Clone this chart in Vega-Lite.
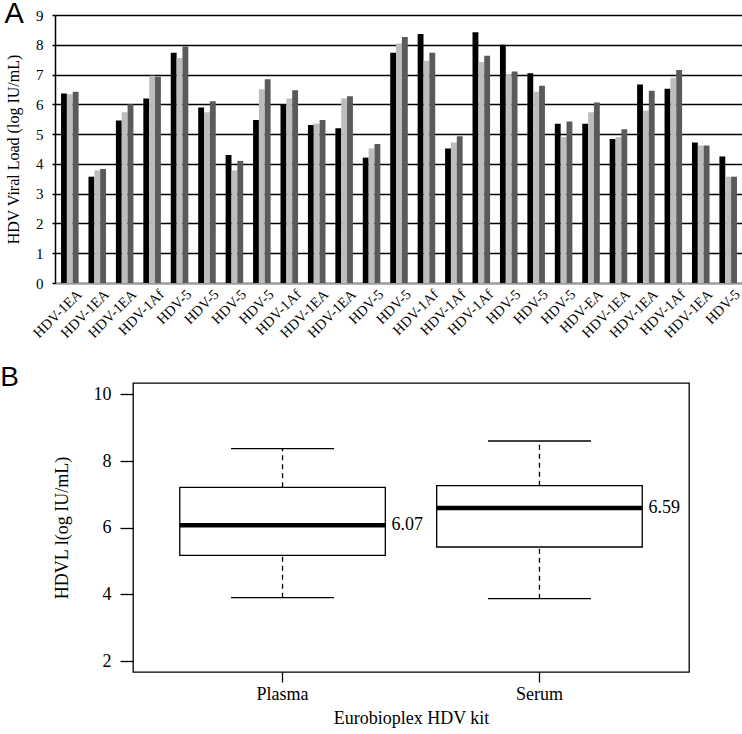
{
  "$schema": "https://vega.github.io/schema/vega-lite/v6.json",
  "background": "white",
  "padding": {"left": 0, "top": 0, "right": 0, "bottom": 0},
  "config": {
    "font": "Liberation Serif",
    "axis": {"labelFont": "Liberation Serif", "titleFont": "Liberation Serif", "labelColor": "black", "titleColor": "black", "titleFontWeight": "normal"},
    "title": {"font": "Liberation Sans", "fontWeight": "normal", "color": "black"}
  },
  "datasets": {
    "bars": [
      {"g": "01 HDV-1EA", "s": "a", "v": 6.36}, {"g": "01 HDV-1EA", "s": "b", "v": 6.34}, {"g": "01 HDV-1EA", "s": "c", "v": 6.42},
      {"g": "02 HDV-1EA", "s": "a", "v": 3.57}, {"g": "02 HDV-1EA", "s": "b", "v": 3.78}, {"g": "02 HDV-1EA", "s": "c", "v": 3.83},
      {"g": "03 HDV-1EA", "s": "a", "v": 5.46}, {"g": "03 HDV-1EA", "s": "b", "v": 5.73}, {"g": "03 HDV-1EA", "s": "c", "v": 6.0},
      {"g": "04 HDV-1Af", "s": "a", "v": 6.2}, {"g": "04 HDV-1Af", "s": "b", "v": 6.96}, {"g": "04 HDV-1Af", "s": "c", "v": 6.93},
      {"g": "05 HDV-5", "s": "a", "v": 7.73}, {"g": "05 HDV-5", "s": "b", "v": 7.56}, {"g": "05 HDV-5", "s": "c", "v": 7.94},
      {"g": "06 HDV-5", "s": "a", "v": 5.89}, {"g": "06 HDV-5", "s": "b", "v": 5.73}, {"g": "06 HDV-5", "s": "c", "v": 6.1},
      {"g": "07 HDV-5", "s": "a", "v": 4.3}, {"g": "07 HDV-5", "s": "b", "v": 3.78}, {"g": "07 HDV-5", "s": "c", "v": 4.1},
      {"g": "08 HDV-5", "s": "a", "v": 5.47}, {"g": "08 HDV-5", "s": "b", "v": 6.51}, {"g": "08 HDV-5", "s": "c", "v": 6.84},
      {"g": "09 HDV-1Af", "s": "a", "v": 6.01}, {"g": "09 HDV-1Af", "s": "b", "v": 6.2}, {"g": "09 HDV-1Af", "s": "c", "v": 6.47},
      {"g": "10 HDV-1EA", "s": "a", "v": 5.31}, {"g": "10 HDV-1EA", "s": "b", "v": 5.36}, {"g": "10 HDV-1EA", "s": "c", "v": 5.47},
      {"g": "11 HDV-1EA", "s": "a", "v": 5.2}, {"g": "11 HDV-1EA", "s": "b", "v": 6.2}, {"g": "11 HDV-1EA", "s": "c", "v": 6.27},
      {"g": "12 HDV-5", "s": "a", "v": 4.21}, {"g": "12 HDV-5", "s": "b", "v": 4.52}, {"g": "12 HDV-5", "s": "c", "v": 4.67},
      {"g": "13 HDV-5", "s": "a", "v": 7.73}, {"g": "13 HDV-5", "s": "b", "v": 8.04}, {"g": "13 HDV-5", "s": "c", "v": 8.26},
      {"g": "14 HDV-1Af", "s": "a", "v": 8.36}, {"g": "14 HDV-1Af", "s": "b", "v": 7.46}, {"g": "14 HDV-1Af", "s": "c", "v": 7.73},
      {"g": "15 HDV-1Af", "s": "a", "v": 4.52}, {"g": "15 HDV-1Af", "s": "b", "v": 4.72}, {"g": "15 HDV-1Af", "s": "c", "v": 4.93},
      {"g": "16 HDV-1Af", "s": "a", "v": 8.42}, {"g": "16 HDV-1Af", "s": "b", "v": 7.42}, {"g": "16 HDV-1Af", "s": "c", "v": 7.63},
      {"g": "17 HDV-5", "s": "a", "v": 8.0}, {"g": "17 HDV-5", "s": "b", "v": 7.0}, {"g": "17 HDV-5", "s": "c", "v": 7.1},
      {"g": "18 HDV-5", "s": "a", "v": 7.04}, {"g": "18 HDV-5", "s": "b", "v": 6.42}, {"g": "18 HDV-5", "s": "c", "v": 6.62},
      {"g": "19 HDV-5", "s": "a", "v": 5.35}, {"g": "19 HDV-5", "s": "b", "v": 4.9}, {"g": "19 HDV-5", "s": "c", "v": 5.42},
      {"g": "20 HDV-EA", "s": "a", "v": 5.35}, {"g": "20 HDV-EA", "s": "b", "v": 5.73}, {"g": "20 HDV-EA", "s": "c", "v": 6.06},
      {"g": "21 HDV-1EA", "s": "a", "v": 4.84}, {"g": "21 HDV-1EA", "s": "b", "v": 4.9}, {"g": "21 HDV-1EA", "s": "c", "v": 5.16},
      {"g": "22 HDV-1EA", "s": "a", "v": 6.67}, {"g": "22 HDV-1EA", "s": "b", "v": 5.79}, {"g": "22 HDV-1EA", "s": "c", "v": 6.46},
      {"g": "23 HDV-1Af", "s": "a", "v": 6.52}, {"g": "23 HDV-1Af", "s": "b", "v": 6.89}, {"g": "23 HDV-1Af", "s": "c", "v": 7.15},
      {"g": "24 HDV-1EA", "s": "a", "v": 4.72}, {"g": "24 HDV-1EA", "s": "b", "v": 4.62}, {"g": "24 HDV-1EA", "s": "c", "v": 4.62},
      {"g": "25 HDV-5", "s": "a", "v": 4.25}, {"g": "25 HDV-5", "s": "b", "v": 3.57}, {"g": "25 HDV-5", "s": "c", "v": 3.57}
    ],
    "box": [
      {"kit": "Plasma", "lower": 3.9, "q1": 5.17, "median": 6.07, "q3": 7.21, "upper": 8.37, "label": "6.07"},
      {"kit": "Serum", "lower": 3.87, "q1": 5.42, "median": 6.59, "q3": 7.26, "upper": 8.6, "label": "6.59"}
    ]
  },
  "spacing": 23,
  "vconcat": [
    {
      "title": {"text": "A", "anchor": "start", "frame": "bounds", "fontSize": 29, "baseline": "top", "offset": -16, "dy": 5, "dx": -1},
      "width": 688,
      "height": 268,
      "data": {"name": "bars"},
      "view": {"stroke": null},
      "mark": {"type": "bar"},
      "encoding": {
        "x": {
          "field": "g", "type": "nominal",
          "scale": {"paddingInner": 0.36, "paddingOuter": 0.22},
          "axis": {"title": null, "labelExpr": "slice(datum.value, 3)", "labelAngle": -45, "labelAlign": "right", "labelBaseline": "top", "ticks": false, "domainColor": "#9a9a9a", "domainWidth": 1.5, "labelFontSize": 14.5, "labelPadding": 4, "labelOffset": 5}
        },
        "xOffset": {"field": "s", "type": "nominal", "scale": {"paddingInner": 0, "paddingOuter": 0}},
        "y": {
          "field": "v", "type": "quantitative",
          "scale": {"domain": [0, 9], "nice": false},
          "axis": {"title": "HDV Viral Load (log IU/mL)", "values": [0, 1, 2, 3, 4, 5, 6, 7, 8, 9], "grid": true, "gridColor": "black", "gridWidth": 1.5, "gridOpacity": 1, "domainColor": "black", "domainWidth": 1.5, "tickColor": "black", "tickSize": 3, "tickWidth": 1.5, "labelFontSize": 15, "labelPadding": 9, "titleFontSize": 16, "titlePadding": 14}
        },
        "color": {"field": "s", "type": "nominal", "scale": {"domain": ["a", "b", "c"], "range": ["#000000", "#bdbdbd", "#5a5a5a"]}, "legend": null}
      }
    },
    {
      "title": {"text": "B", "anchor": "start", "frame": "bounds", "fontSize": 28, "baseline": "top", "offset": -13, "dy": -3, "dx": -52},
      "spacing": -7,
      "hconcat": [
        {
          "width": 1,
          "height": 289,
          "data": {"values": [{"a": 1}]},
          "view": {"stroke": null},
          "mark": {"type": "point", "opacity": 0},
          "encoding": {}
        },
        {
          "width": 556,
          "height": 289,
          "data": {"name": "box"},
          "view": {"stroke": "black", "strokeWidth": 1.3},
          "encoding": {
            "x": {
              "field": "kit", "type": "nominal",
              "scale": {"paddingInner": 0.2, "paddingOuter": 0.182},
              "axis": {"title": "Eurobioplex HDV kit", "labelAngle": 0, "domain": false, "tickSize": 10, "tickColor": "black", "tickWidth": 1.3, "labelFontSize": 18, "titleFontSize": 18, "labelPadding": 3, "titlePadding": 6}
            }
          },
          "layer": [
            {
              "mark": {"type": "rule", "color": "black", "strokeWidth": 1.3, "strokeDash": [5, 4]},
              "encoding": {
                "y": {
                  "field": "q3", "type": "quantitative", "title": "HDVL l(og IU/mL)",
                  "scale": {"domain": [1.67, 10.34], "nice": false, "zero": false},
                  "axis": {"values": [2, 4, 6, 8, 10], "domain": false, "grid": false, "tickSize": 13, "tickColor": "black", "tickWidth": 1.3, "labelFontSize": 18, "labelPadding": 9, "titleFontSize": 18, "titlePadding": 22}
                },
                "y2": {"field": "upper"}
              }
            },
            {
              "mark": {"type": "rule", "color": "black", "strokeWidth": 1.3, "strokeDash": [5, 4]},
              "encoding": {
                "y": {"field": "lower", "type": "quantitative", "title": "HDVL l(og IU/mL)"},
                "y2": {"field": "q1"}
              }
            },
            {
              "mark": {"type": "tick", "color": "black", "thickness": 1.3, "size": 103, "opacity": 1},
              "encoding": {"y": {"field": "upper", "type": "quantitative", "title": "HDVL l(og IU/mL)"}}
            },
            {
              "mark": {"type": "tick", "color": "black", "thickness": 1.3, "size": 103, "opacity": 1},
              "encoding": {"y": {"field": "lower", "type": "quantitative", "title": "HDVL l(og IU/mL)"}}
            },
            {
              "mark": {"type": "bar", "fill": "white", "stroke": "black", "strokeWidth": 1.3},
              "encoding": {
                "y": {"field": "q1", "type": "quantitative", "title": "HDVL l(og IU/mL)"},
                "y2": {"field": "q3"}
              }
            },
            {
              "mark": {"type": "tick", "color": "black", "thickness": 4.5, "size": 205, "opacity": 1},
              "encoding": {"y": {"field": "median", "type": "quantitative", "title": "HDVL l(og IU/mL)"}}
            },
            {
              "mark": {"type": "text", "align": "left", "baseline": "middle", "dx": 109, "fontSize": 18, "font": "Liberation Serif", "color": "black"},
              "encoding": {
                "y": {"field": "median", "type": "quantitative", "title": "HDVL l(og IU/mL)"},
                "text": {"field": "label"}
              }
            }
          ]
        }
      ]
    }
  ]
}
